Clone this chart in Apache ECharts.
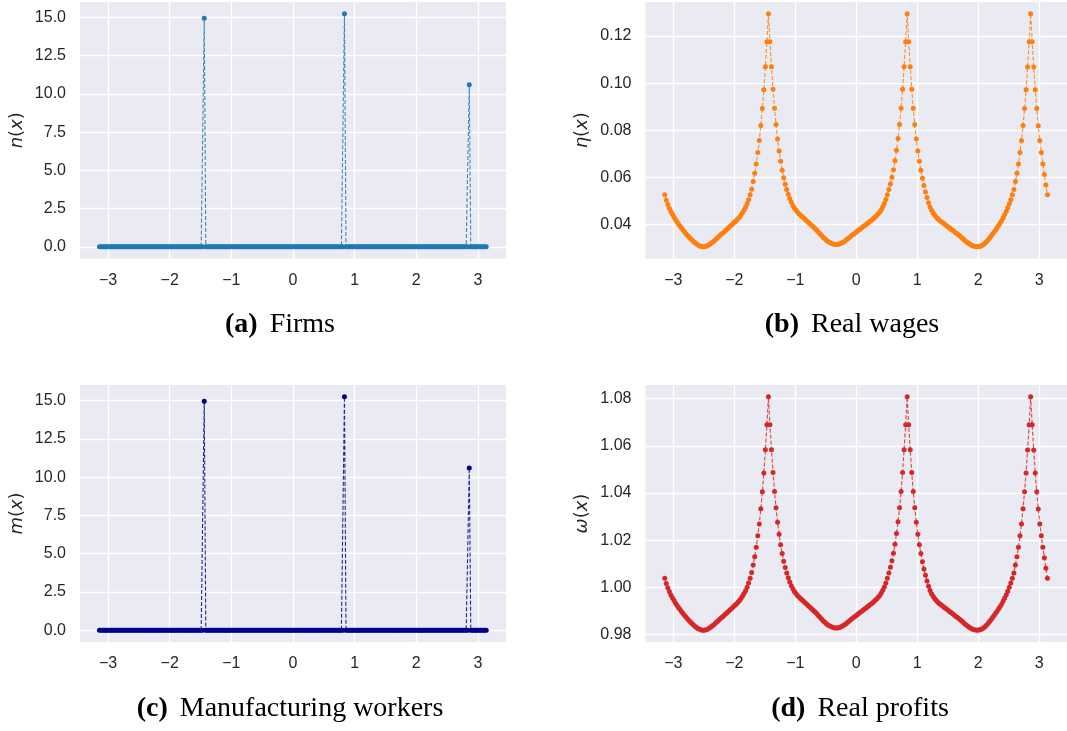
<!DOCTYPE html>
<html>
<head>
<meta charset="utf-8">
<script src="https://cdn.jsdelivr.net/npm/echarts@6/dist/echarts.min.js"></script>
<style>html,body{margin:0;padding:0;background:#fff;}#c{width:1067px;height:731px;}</style>
</head>
<body>
<div id="c"></div>
<script>
// sampling grid x (periodic domain [-pi, pi])
const xs = [
-3.14,-3.115,-3.09,-3.065,-3.04,-3.015,-2.99,-2.965,-2.94,-2.915,
-2.89,-2.865,-2.84,-2.815,-2.79,-2.765,-2.74,-2.715,-2.69,-2.665,
-2.64,-2.615,-2.59,-2.565,-2.54,-2.515,-2.49,-2.465,-2.44,-2.415,
-2.39,-2.365,-2.34,-2.315,-2.29,-2.265,-2.24,-2.215,-2.19,-2.165,
-2.14,-2.115,-2.09,-2.065,-2.04,-2.015,-1.99,-1.965,-1.94,-1.915,
-1.89,-1.865,-1.84,-1.815,-1.79,-1.765,-1.74,-1.715,-1.69,-1.665,
-1.64,-1.615,-1.59,-1.565,-1.54,-1.515,-1.49,-1.465,-1.44,-1.415,
-1.39,-1.365,-1.34,-1.315,-1.29,-1.265,-1.24,-1.215,-1.19,-1.165,
-1.14,-1.115,-1.09,-1.065,-1.04,-1.015,-0.99,-0.965,-0.94,-0.915,
-0.89,-0.865,-0.84,-0.815,-0.79,-0.765,-0.74,-0.715,-0.69,-0.665,
-0.64,-0.615,-0.59,-0.565,-0.54,-0.515,-0.49,-0.465,-0.44,-0.415,
-0.39,-0.365,-0.34,-0.315,-0.29,-0.265,-0.24,-0.215,-0.19,-0.165,
-0.14,-0.115,-0.09,-0.065,-0.04,-0.015,0.01,0.035,0.06,0.085,
0.11,0.135,0.16,0.185,0.21,0.235,0.26,0.285,0.31,0.335,
0.36,0.385,0.41,0.435,0.46,0.485,0.51,0.535,0.56,0.585,
0.61,0.635,0.66,0.685,0.71,0.735,0.76,0.785,0.81,0.835,
0.86,0.885,0.91,0.935,0.96,0.985,1.01,1.035,1.06,1.085,
1.11,1.135,1.16,1.185,1.21,1.235,1.26,1.285,1.31,1.335,
1.36,1.385,1.41,1.435,1.46,1.485,1.51,1.535,1.56,1.585,
1.61,1.635,1.66,1.685,1.71,1.735,1.76,1.785,1.81,1.835,
1.86,1.885,1.91,1.935,1.96,1.985,2.01,2.035,2.06,2.085,
2.11,2.135,2.16,2.185,2.21,2.235,2.26,2.285,2.31,2.335,
2.36,2.385,2.41,2.435,2.46,2.485,2.51,2.535,2.56,2.585,
2.61,2.635,2.66,2.685,2.71,2.735,2.76,2.785,2.81,2.835,
2.86,2.885,2.91,2.935,2.96,2.985,3.01,3.035,3.06,3.085,
3.11,3.135
];

// (a) Firms n(x)
const firms = [
0,0,0,0,0,0,0,0,0,0, 0,0,0,0,0,0,0,0,0,0,
0,0,0,0,0,0,0,0,0,0, 0,0,0,0,0,0,0,0,0,0,
0,0,0,0,0,0,0,0,0,0, 0,0,0,0,0,0,0,0,0,0,
0,0,0,0,0,0,0,0,14.95,0, 0,0,0,0,0,0,0,0,0,0,
0,0,0,0,0,0,0,0,0,0, 0,0,0,0,0,0,0,0,0,0,
0,0,0,0,0,0,0,0,0,0, 0,0,0,0,0,0,0,0,0,0,
0,0,0,0,0,0,0,0,0,0, 0,0,0,0,0,0,0,0,0,0,
0,0,0,0,0,0,0,0,0,0, 0,0,0,0,0,0,0,0,0,15.25,
0,0,0,0,0,0,0,0,0,0, 0,0,0,0,0,0,0,0,0,0,
0,0,0,0,0,0,0,0,0,0, 0,0,0,0,0,0,0,0,0,0,
0,0,0,0,0,0,0,0,0,0, 0,0,0,0,0,0,0,0,0,0,
0,0,0,0,0,0,0,0,0,0, 0,0,0,0,0,0,0,0,0,0,
10.6,0,0,0,0,0,0,0,0,0, 0,0
];

// (b) Real wages eta(x)
const wages = [
0.0526,0.0503,0.0485,0.0469,0.0455,0.0443,0.0432,0.0421,0.0411,0.0402,
0.0393,0.0384,0.0376,0.0368,0.0360,0.0353,0.0346,0.0339,0.0333,0.0327,
0.0321,0.0316,0.0312,0.0309,0.0306,0.0305,0.0305,0.0307,0.0310,0.0314,
0.0318,0.0323,0.0328,0.0334,0.0340,0.0346,0.0352,0.0358,0.0363,0.0369,
0.0375,0.0381,0.0387,0.0393,0.0399,0.0405,0.0411,0.0417,0.0424,0.0431,
0.0440,0.0450,0.0461,0.0473,0.0488,0.0505,0.0526,0.0550,0.0582,0.0617,
0.0657,0.0706,0.0756,0.0820,0.0892,0.0972,0.1070,0.1176,0.1295,0.1176,
0.1070,0.0974,0.0893,0.0824,0.0763,0.0712,0.0668,0.0630,0.0598,0.0571,
0.0548,0.0528,0.0510,0.0494,0.0481,0.0470,0.0461,0.0453,0.0446,0.0440,
0.0434,0.0428,0.0422,0.0416,0.0410,0.0404,0.0398,0.0392,0.0386,0.0380,
0.0373,0.0366,0.0359,0.0352,0.0345,0.0339,0.0333,0.0328,0.0324,0.0321,
0.0318,0.0316,0.0315,0.0315,0.0316,0.0318,0.0321,0.0325,0.0329,0.0334,
0.0339,0.0344,0.0350,0.0355,0.0360,0.0365,0.0370,0.0375,0.0380,0.0385,
0.0390,0.0395,0.0400,0.0405,0.0410,0.0415,0.0420,0.0426,0.0432,0.0438,
0.0445,0.0453,0.0463,0.0475,0.0489,0.0506,0.0526,0.0548,0.0572,0.0600,
0.0632,0.0670,0.0715,0.0765,0.0824,0.0893,0.0974,0.1070,0.1176,0.1295,
0.1176,0.1070,0.0974,0.0893,0.0824,0.0763,0.0712,0.0668,0.0630,0.0596,
0.0565,0.0538,0.0514,0.0492,0.0474,0.0460,0.0449,0.0440,0.0432,0.0425,
0.0419,0.0414,0.0409,0.0404,0.0399,0.0394,0.0389,0.0384,0.0379,0.0374,
0.0369,0.0364,0.0359,0.0354,0.0349,0.0343,0.0337,0.0331,0.0326,0.0321,
0.0317,0.0313,0.0310,0.0307,0.0306,0.0305,0.0306,0.0308,0.0311,0.0315,
0.0320,0.0327,0.0334,0.0342,0.0350,0.0359,0.0368,0.0377,0.0386,0.0396,
0.0406,0.0417,0.0429,0.0442,0.0456,0.0471,0.0488,0.0505,0.0526,0.0548,
0.0582,0.0617,0.0657,0.0706,0.0756,0.0820,0.0892,0.0972,0.1069,0.1176,
0.1295,0.1176,0.1069,0.0972,0.0892,0.0819,0.0756,0.0706,0.0657,0.0612,
0.0568,0.0526
];

// (c) Manufacturing workers m(x)
const workers = [
0,0,0,0,0,0,0,0,0,0, 0,0,0,0,0,0,0,0,0,0,
0,0,0,0,0,0,0,0,0,0, 0,0,0,0,0,0,0,0,0,0,
0,0,0,0,0,0,0,0,0,0, 0,0,0,0,0,0,0,0,0,0,
0,0,0,0,0,0,0,0,14.95,0, 0,0,0,0,0,0,0,0,0,0,
0,0,0,0,0,0,0,0,0,0, 0,0,0,0,0,0,0,0,0,0,
0,0,0,0,0,0,0,0,0,0, 0,0,0,0,0,0,0,0,0,0,
0,0,0,0,0,0,0,0,0,0, 0,0,0,0,0,0,0,0,0,0,
0,0,0,0,0,0,0,0,0,0, 0,0,0,0,0,0,0,0,0,15.25,
0,0,0,0,0,0,0,0,0,0, 0,0,0,0,0,0,0,0,0,0,
0,0,0,0,0,0,0,0,0,0, 0,0,0,0,0,0,0,0,0,0,
0,0,0,0,0,0,0,0,0,0, 0,0,0,0,0,0,0,0,0,0,
0,0,0,0,0,0,0,0,0,0, 0,0,0,0,0,0,0,0,0,0,
10.6,0,0,0,0,0,0,0,0,0, 0,0
];

// (d) Real profits omega(x)
const profits = [
1.0039,1.0016,0.9998,0.9982,0.9968,0.9956,0.9945,0.9934,0.9924,0.9915,
0.9906,0.9897,0.9889,0.9881,0.9873,0.9866,0.9859,0.9852,0.9846,0.9840,
0.9834,0.9829,0.9825,0.9822,0.9819,0.9818,0.9818,0.9820,0.9823,0.9827,
0.9831,0.9836,0.9841,0.9847,0.9853,0.9859,0.9865,0.9871,0.9876,0.9882,
0.9888,0.9894,0.9900,0.9906,0.9912,0.9918,0.9924,0.9930,0.9937,0.9944,
0.9953,0.9963,0.9974,0.9986,1.0001,1.0018,1.0039,1.0063,1.0095,1.0130,
1.0170,1.0219,1.0269,1.0333,1.0405,1.0485,1.0583,1.0689,1.0808,1.0689,
1.0583,1.0487,1.0406,1.0337,1.0276,1.0225,1.0181,1.0143,1.0111,1.0084,
1.0061,1.0041,1.0023,1.0007,0.9994,0.9983,0.9974,0.9966,0.9959,0.9953,
0.9947,0.9941,0.9935,0.9929,0.9923,0.9917,0.9911,0.9905,0.9899,0.9893,
0.9886,0.9879,0.9872,0.9865,0.9858,0.9852,0.9846,0.9841,0.9837,0.9834,
0.9831,0.9829,0.9828,0.9828,0.9829,0.9831,0.9834,0.9838,0.9842,0.9847,
0.9852,0.9857,0.9863,0.9868,0.9873,0.9878,0.9883,0.9888,0.9893,0.9898,
0.9903,0.9908,0.9913,0.9918,0.9923,0.9928,0.9933,0.9939,0.9945,0.9951,
0.9958,0.9966,0.9976,0.9988,1.0002,1.0019,1.0039,1.0061,1.0085,1.0113,
1.0145,1.0183,1.0228,1.0278,1.0337,1.0406,1.0487,1.0583,1.0689,1.0808,
1.0689,1.0583,1.0487,1.0406,1.0337,1.0276,1.0225,1.0181,1.0143,1.0109,
1.0078,1.0051,1.0027,1.0005,0.9987,0.9973,0.9962,0.9953,0.9945,0.9938,
0.9932,0.9927,0.9922,0.9917,0.9912,0.9907,0.9902,0.9897,0.9892,0.9887,
0.9882,0.9877,0.9872,0.9867,0.9862,0.9856,0.9850,0.9844,0.9839,0.9834,
0.9830,0.9826,0.9823,0.9820,0.9819,0.9818,0.9819,0.9821,0.9824,0.9828,
0.9833,0.9840,0.9847,0.9855,0.9863,0.9872,0.9881,0.9890,0.9899,0.9909,
0.9919,0.9930,0.9942,0.9955,0.9969,0.9984,1.0001,1.0018,1.0039,1.0061,
1.0095,1.0130,1.0170,1.0219,1.0269,1.0333,1.0405,1.0485,1.0582,1.0689,
1.0808,1.0689,1.0582,1.0485,1.0405,1.0332,1.0269,1.0219,1.0170,1.0125,
1.0081,1.0039
];

// tick labels
const xTicks = [-3, -2, -1, 0, 1, 2, 3];
const nTicks = [0, 2.5, 5, 7.5, 10, 12.5, 15];
const etaTicks = [0.04, 0.06, 0.08, 0.10, 0.12];
const omegaTicks = [0.98, 1.00, 1.02, 1.04, 1.06, 1.08];

const panels = [
  {ys: firms,   ticks: nTicks,     dec: 1, min: -0.7625, max: 16.0125, name: '{i|n}({i|x})', color: '#1f77b4', caption: '{b|(a)} Firms',                 grid: {left: 80,  top: 2,   width: 426, height: 256.5}, cap: {x: 280, y: 311}},
  {ys: wages,   ticks: etaTicks,   dec: 2, min: 0.02555, max: 0.13445, name: '{i|η}({i|x})', color: '#ff7f0e', caption: '{b|(b)} Real wages',            grid: {left: 645.5, top: 2, width: 426, height: 256.5}, cap: {x: 852, y: 311}},
  {ys: workers, ticks: nTicks,     dec: 1, min: -0.7625, max: 16.0125, name: '{i|m}({i|x})', color: '#00008b', caption: '{b|(c)} Manufacturing workers', grid: {left: 80,  top: 385, width: 426, height: 257}, cap: {x: 290, y: 695}},
  {ys: profits, ticks: omegaTicks, dec: 2, min: 0.97685, max: 1.08575, name: '{i|ω}({i|x})', color: '#d62728', caption: '{b|(d)} Real profits',          grid: {left: 645.5, top: 385, width: 426, height: 257}, cap: {x: 860, y: 695}}
];

const textColor = '#262626';
const grids = [], xAxes = [], yAxes = [], series = [], titles = [];
panels.forEach((p, k) => {
  grids.push(Object.assign({show: true, backgroundColor: '#eaeaf2', borderWidth: 0, containLabel: false}, p.grid));
  xAxes.push({
    type: 'value', gridIndex: k, min: -3.456, max: 3.456,
    axisLine: {show: false},
    axisTick: {show: false, customValues: xTicks},
    splitLine: {show: true, lineStyle: {color: '#ffffff', width: 1.3}},
    axisLabel: {customValues: xTicks, color: textColor, fontSize: 16, fontFamily: 'Liberation Sans', margin: 14,
      formatter: v => (v < 0 ? '\u2212' + Math.abs(v) : String(v))}
  });
  yAxes.push({
    type: 'value', gridIndex: k, min: p.min, max: p.max,
    axisLine: {show: false},
    axisTick: {show: false, customValues: p.ticks},
    splitLine: {show: true, lineStyle: {color: '#ffffff', width: 1.3}},
    axisLabel: {customValues: p.ticks, color: textColor, fontSize: 16, fontFamily: 'Liberation Sans', margin: 14,
      formatter: v => v.toFixed(p.dec)},
    name: p.name, nameLocation: 'middle', nameRotate: 90, nameGap: 54,
    nameTextStyle: {color: textColor, fontSize: 18, fontFamily: 'DejaVu Sans',
      rich: {i: {fontStyle: 'italic', fontSize: 18, fontFamily: 'DejaVu Sans', color: textColor}}}
  });
  series.push({
    type: 'line', xAxisIndex: k, yAxisIndex: k,
    data: xs.map((x, i) => [x, p.ys[i]]),
    symbol: 'circle', symbolSize: 5, showSymbol: true, showAllSymbol: true,
    lineStyle: {color: p.color, width: 1.1, type: [4, 2], opacity: 0.85},
    itemStyle: {color: p.color},
    silent: true, animation: false
  });
  titles.push({
    text: p.caption, left: p.cap.x, top: p.cap.y, textAlign: 'center', padding: 0,
    textStyle: {fontFamily: 'Liberation Serif', fontSize: 28, fontWeight: 'normal', color: '#000',
      rich: {b: {fontFamily: 'Liberation Serif', fontSize: 28, fontWeight: 'bold', color: '#000', padding: [0, 5, 0, 0]}}}
  });
});

const chart = echarts.init(document.getElementById('c'), null, {renderer: 'canvas'});
chart.setOption({
  animation: false,
  backgroundColor: '#ffffff',
  title: titles,
  grid: grids,
  xAxis: xAxes,
  yAxis: yAxes,
  series: series
});
</script>
</body>
</html>
